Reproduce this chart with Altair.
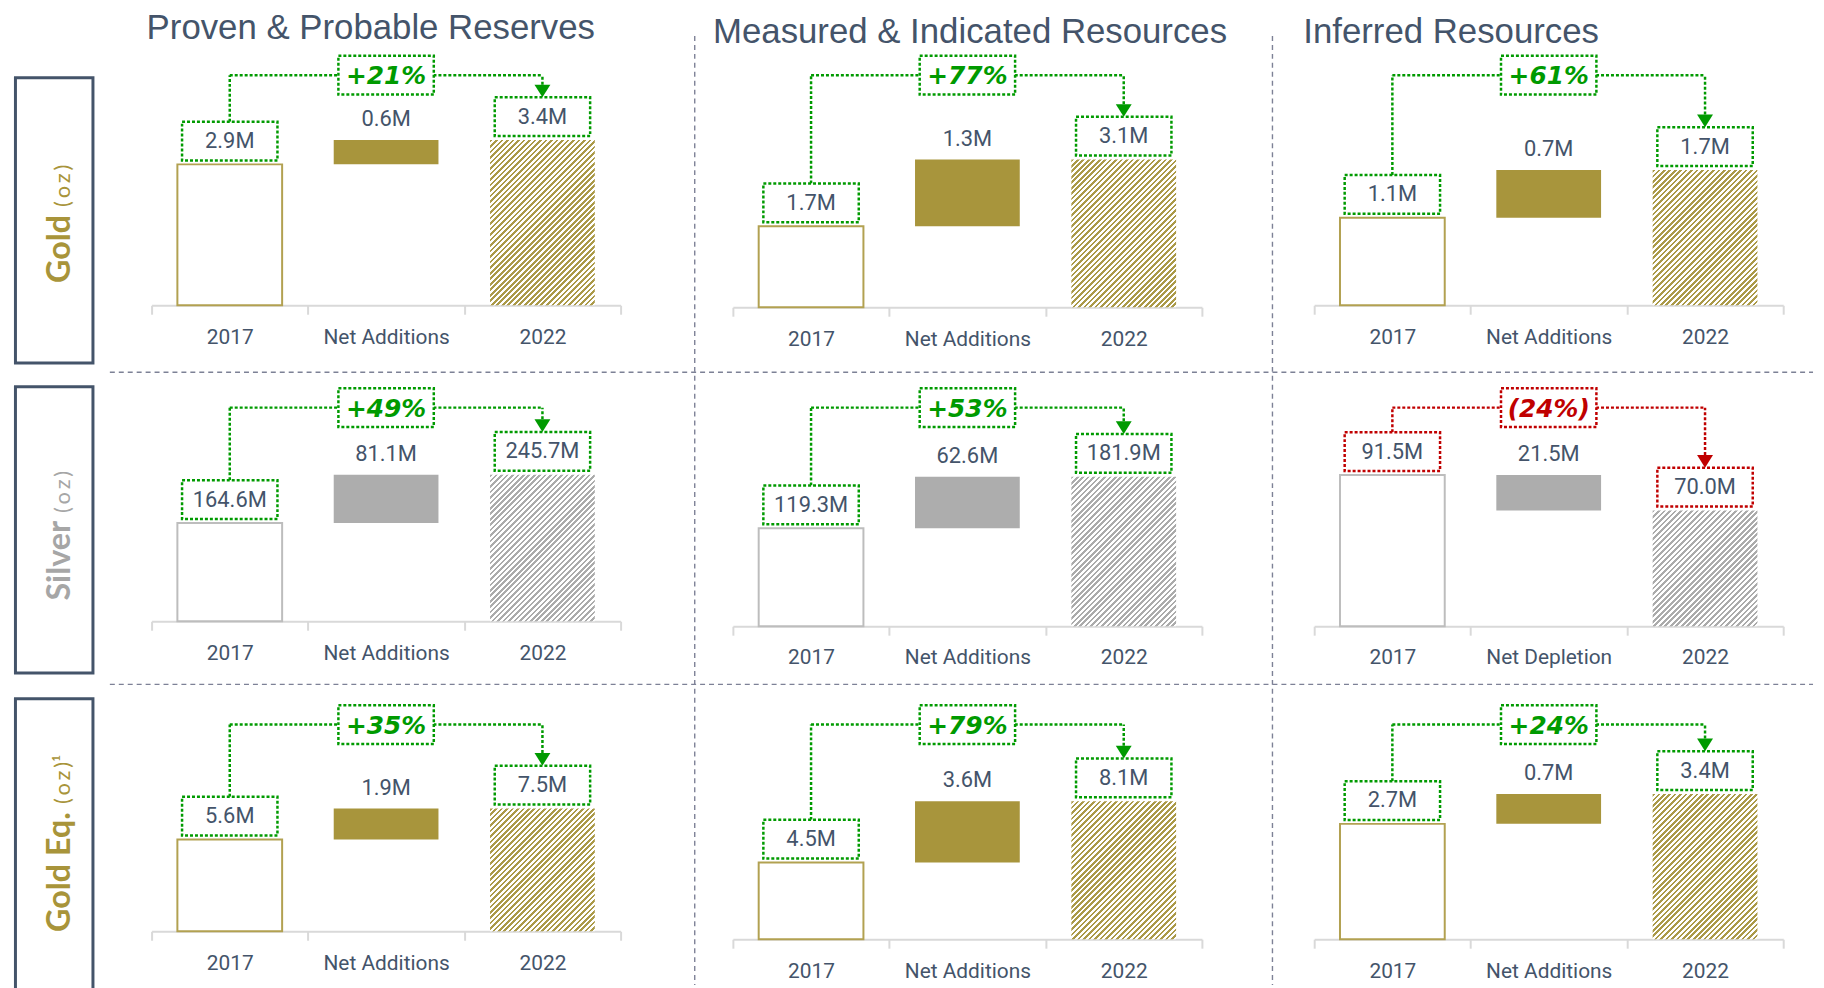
import altair as alt
import pandas as pd

# ---------------- data ----------------
metals = ["Gold", "Silver", "Gold Eq."]
metal_units = ["(\u2009o\u2009z\u2009)", "(\u2009o\u2009z\u2009)", "(\u2009o\u2009z\u2009)\u00b9"]
sections = ["Proven & Probable Reserves", "Measured & Indicated Resources", "Inferred Resources"]
start_label = "2017"
end_label = "2022"
change_labels = [
    ["Net Additions", "Net Additions", "Net Additions"],
    ["Net Additions", "Net Additions", "Net Depletion"],
    ["Net Additions", "Net Additions", "Net Additions"],
]
values_2017 = [[2.9, 1.7, 1.1], [164.6, 119.3, 91.5], [5.6, 4.5, 2.7]]
values_change = [[0.6, 1.3, 0.7], [81.1, 62.6, 21.5], [1.9, 3.6, 0.7]]
values_2022 = [[3.4, 3.1, 1.7], [245.7, 181.9, 70.0], [7.5, 8.1, 3.4]]
pct_labels = [["+21%", "+77%", "+61%"], ["+49%", "+53%", "(24%)"], ["+35%", "+79%", "+24%"]]

# ---------------- layout / style ----------------
PANEL_W = 472
PANEL_H = [[266, 268, 266], [248, 253, 253], [244, 252, 252]]
Y_MAX = [[5.44, 5.59, 3.32], [413, 306, 152], [14.8, 14.7, 5.86]]
CONN_Y = [34.5, 33, 36]
ROW_H = [325, 305, 300]
ROW_GAP = 11
COL_GAP = 113
LABEL_W = 24
BOX_TOP = [37, 12, 10]
BOX_BOT = [324, 300, 310]
SPLIT = [171, 143, 120]
TITLE_DX = [-5, -20, -11]
TITLE_Y = [-13, -9, -9]
SEP_X = [546.6, 1128]
BAND = 0.67
GAP = 4
BOX_H = 39
BOX_W = 96
ARROW_W = 16
ARROW_H = 12.8
ARROW_PATH = "M-1,-0.8L1,-0.8L0,0.8Z"
DASH = [3, 2]

GOLD = "#a8953c"
GOLD_HATCH = "#ab9a48"
GOLD_EDGE = "#b2a151"
SILVER = "#adadad"
SILVER_HATCH = "#ababab"
SILVER_EDGE = "#bdbdbd"
GOLD_TEXT = "#a8943a"
SILVER_TEXT = "#a6a6a6"
TEXT = "#44546a"
GREEN = "#009a00"
RED = "#c00000"
AXIS = "#d9d9d9"
SEP = "#7d8196"

NARROW = "Roboto"
SANS = "Liberation Sans"
PCT_FONT = "DejaVu Sans"
GEO = "Lato"


def fmt(v):
    return f"{v:.1f}M"


def hatch(color, w, h, period=5.5, frac=0.48):
    n = max(1, int(round((w + h) / period)))
    stops = []
    for k in range(n):
        o0 = k / n
        o1 = (k + frac) / n
        o2 = min(1.0, (k + 1) / n)
        stops += [
            {"offset": o0, "color": color},
            {"offset": o1, "color": color},
            {"offset": o1, "color": "#ffffff"},
            {"offset": o2, "color": "#ffffff"},
        ]
    c = (w + h) / (w * w + h * h)
    return {"gradient": "linear", "x1": 0, "y1": 0, "x2": c * w, "y2": c * h, "stops": stops}


def panel(r, c):
    cats = [start_label, change_labels[r][c], end_label]
    H = PANEL_H[r][c]
    ymax = Y_MAX[r][c]
    a = values_2017[r][c]
    d = values_change[r][c]
    b = values_2022[r][c]
    silver = r == 1
    solid = SILVER if silver else GOLD
    hcol = SILVER_HATCH if silver else GOLD_HATCH
    edge = SILVER_EDGE if silver else GOLD_EDGE
    acc = RED if pct_labels[r][c].startswith("(") else GREEN
    conn = CONN_Y[r]

    xs = alt.Scale(domain=cats, paddingInner=0, paddingOuter=0)
    ys = alt.Scale(domain=[0, ymax], nice=False, zero=True)
    X = alt.X(
        "cat:N",
        scale=xs,
        title=None,
        axis=alt.Axis(
            domainColor=AXIS, domainWidth=2, tickColor=AXIS, tickWidth=2, tickSize=9,
            tickBand="extent", labelColor=TEXT, labelFont=NARROW, labelFontSize=21,
            labelPadding=12, labelAngle=0, grid=False, labelLimit=300,
        ),
    )
    Y1 = alt.Y("y1:Q", scale=ys, axis=None)
    YT = alt.Y("top:Q", scale=ys, axis=None)

    df_start = pd.DataFrame({"cat": [cats[0]], "y0": [0.0], "y1": [a]})
    df_change = pd.DataFrame({"cat": [cats[1]], "y0": [a], "y1": [b]})
    df_end = pd.DataFrame({"cat": [cats[2]], "y0": [0.0], "y1": [b]})
    df_boxes = pd.DataFrame({"cat": [cats[0], cats[2]], "top": [a, b], "label": [fmt(a), fmt(b)]})
    df_net = pd.DataFrame({"cat": [cats[1]], "top": [max(a, b)], "label": [fmt(d)]})
    df_legA = pd.DataFrame({"cat": [cats[0]], "top": [a]})
    df_legB = pd.DataFrame({"cat": [cats[2]], "top": [b]})
    df_h = pd.DataFrame({"cat": [cats[0], cats[2]]})
    df_pct = pd.DataFrame({"cat": [cats[1]], "label": [pct_labels[r][c]]})

    bw = BAND * PANEL_W / 3.0
    bh = b * H / ymax

    layers = [
        alt.Chart(df_start).mark_bar(width=alt.RelativeBandSize(BAND), fill="white", stroke=edge, strokeWidth=2)
        .encode(x=X, y=Y1, y2="y0"),
        alt.Chart(df_change).mark_bar(width=alt.RelativeBandSize(BAND), fill=solid)
        .encode(x=X, y=Y1, y2="y0"),
        alt.Chart(df_end).mark_bar(width=alt.RelativeBandSize(BAND), fill=hatch(hcol, bw, bh))
        .encode(x=X, y=Y1, y2="y0"),
        alt.Chart(df_h).mark_line(color=acc, strokeWidth=2.5, strokeDash=DASH)
        .encode(x=X, y=alt.value(conn)),
        alt.Chart(df_legA).mark_rule(color=acc, strokeWidth=2.5, strokeDash=DASH, yOffset=-(GAP + BOX_H))
        .encode(x=X, y=YT, y2=alt.value(conn)),
        alt.Chart(df_legB).mark_rule(color=acc, strokeWidth=2.5, strokeDash=DASH, yOffset=-(GAP + BOX_H + ARROW_H))
        .encode(x=X, y=YT, y2=alt.value(conn)),
        alt.Chart(df_legB).mark_point(shape=ARROW_PATH, size=ARROW_W ** 2, filled=True, color=acc, opacity=1,
                                      yOffset=-(GAP + BOX_H + ARROW_H / 2))
        .encode(x=X, y=YT),
        alt.Chart(df_pct).mark_bar(width=BOX_W, fill="white", stroke=acc, strokeWidth=2.5, strokeDash=DASH)
        .encode(x=X, y=alt.value(conn - BOX_H / 2), y2=alt.value(conn + BOX_H / 2)),
        alt.Chart(df_pct).mark_text(font=PCT_FONT, fontSize=25, fontWeight="bold", fontStyle="italic", color=acc,
                                    baseline="middle")
        .encode(x=X, y=alt.value(conn + 1), text="label:N"),
        alt.Chart(df_boxes).mark_bar(width=BOX_W, fill="white", stroke=acc, strokeWidth=2.5, strokeDash=DASH,
                                     yOffset=-(GAP + BOX_H), y2Offset=-GAP)
        .encode(x=X, y=YT, y2="top"),
        alt.Chart(df_boxes).mark_text(font=NARROW, fontSize=22, color=TEXT, baseline="middle",
                                      yOffset=-(GAP + BOX_H / 2))
        .encode(x=X, y=YT, text="label:N"),
        alt.Chart(df_net).mark_text(font=NARROW, fontSize=22, color=TEXT, baseline="middle", yOffset=-21)
        .encode(x=X, y=YT, text="label:N"),
    ]

    if r == 0:
        df_t = pd.DataFrame({"t": [sections[c]]})
        layers.append(
            alt.Chart(df_t).mark_text(font=SANS, fontSize=35, color=TEXT, align="left", baseline="middle")
            .encode(x=alt.value(TITLE_DX[c]), y=alt.value(TITLE_Y[c]), text="t:N")
        )
    if r == 0 and c == 0:
        df_s = pd.DataFrame({"s": [0]})
        sep = dict(color=SEP, strokeWidth=1.4, strokeDash=[5, 4])
        layers += [
            alt.Chart(df_s).mark_rule(**sep).encode(x=alt.value(-42), x2=alt.value(1672), y=alt.value(333.4)),
            alt.Chart(df_s).mark_rule(**sep).encode(x=alt.value(-42), x2=alt.value(1672), y=alt.value(647.5)),
            alt.Chart(df_s).mark_rule(**sep).encode(x=alt.value(SEP_X[0]), y=alt.value(-5), y2=alt.value(950)),
            alt.Chart(df_s).mark_rule(**sep).encode(x=alt.value(SEP_X[1]), y=alt.value(-5), y2=alt.value(950)),
        ]
    return alt.layer(*layers).properties(width=PANEL_W, height=H)


def row_label(r):
    df = pd.DataFrame({"m": [metals[r]], "u": [metal_units[r]]})
    color = SILVER_TEXT if r == 1 else GOLD_TEXT
    box = alt.Chart(df).mark_rect(fill="transparent", stroke=TEXT, strokeWidth=3).encode(
        x=alt.value(0), x2=alt.value(78), y=alt.value(BOX_TOP[r]), y2=alt.value(BOX_BOT[r])
    )
    name = alt.Chart(df).mark_text(angle=270, align="right", baseline="alphabetic", font=GEO, fontWeight="bold",
                                   fontSize=32.5, color=color).encode(
        x=alt.value(55), y=alt.value(SPLIT[r] + 4), text="m:N"
    )
    unit = alt.Chart(df).mark_text(angle=270, align="left", baseline="alphabetic", font=GEO, fontSize=22,
                                   color=color).encode(
        x=alt.value(55), y=alt.value(SPLIT[r] - 4), text="u:N"
    )
    return alt.layer(box, name, unit).properties(width=LABEL_W, height=ROW_H[r])


cells = []
for r in range(3):
    cells.append(row_label(r))
    for c in range(3):
        cells.append(panel(r, c))

chart = (
    alt.concat(*cells, columns=4, spacing={"row": ROW_GAP, "column": COL_GAP}, bounds="flush", align="each")
    .properties(padding={"left": 5.5, "top": 0, "right": 2, "bottom": 2}, background="white")
    .configure_view(strokeWidth=0)
)

chart.save("out.html", embed_options={"renderer": "svg", "actions": False})
